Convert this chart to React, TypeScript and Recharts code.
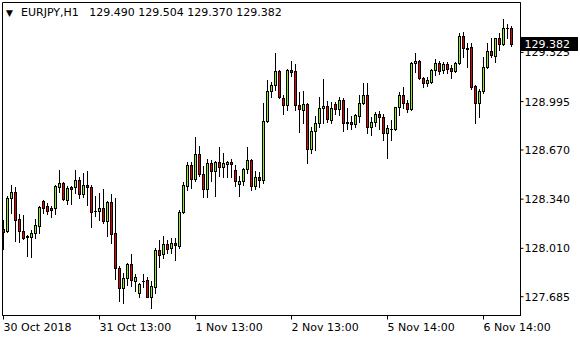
import { ComposedChart, Bar, XAxis, YAxis, ReferenceArea, ReferenceLine } from 'recharts';

// EURJPY H1
const opens = [
  128.141, 128.127, 128.348, 128.389, 128.208, 128.127, 128.094, 128.087, 128.114, 128.161,
  128.328, 128.295, 128.281, 128.281, 128.422, 128.449, 128.335, 128.422, 128.422, 128.469,
  128.375, 128.436, 128.422, 128.261, 128.261, 128.281, 128.194, 128.322, 128.114, 127.880,
  127.746, 127.813, 127.907, 127.793, 127.713, 127.793, 127.800, 127.686, 127.753, 128.001,
  127.974, 128.041, 128.014, 128.047, 128.027, 128.255, 128.429, 128.569, 128.476, 128.643,
  128.509, 128.409, 128.583, 128.529, 128.589, 128.556, 128.576, 128.589, 128.536, 128.442,
  128.462, 128.543, 128.603, 128.429, 128.489, 128.469, 128.864, 129.064, 129.104, 129.198,
  129.017, 128.971, 129.205, 129.198, 128.971, 128.937, 128.977, 128.676, 128.797, 128.850,
  128.950, 128.964, 128.870, 128.977, 128.944, 129.004, 128.857, 128.857, 128.843, 128.897,
  128.984, 129.037, 128.823, 128.857, 128.910, 128.890, 128.783, 128.810, 128.810, 128.957,
  129.037, 128.984, 128.944, 129.252, 129.265, 129.151, 129.118, 129.124, 129.205, 129.252,
  129.205, 129.245, 129.218, 129.198, 129.252, 129.432, 129.352, 129.358, 129.098, 128.984,
  129.064, 129.225, 129.332, 129.298, 129.425, 129.379, 129.492, 129.490,
];
const highs = [
  128.201, 128.362, 128.436, 128.422, 128.241, 128.234, 128.101, 128.134, 128.208, 128.295,
  128.335, 128.315, 128.295, 128.436, 128.536, 128.456, 128.429, 128.425, 128.536, 128.489,
  128.516, 128.529, 128.436, 128.362, 128.382, 128.409, 128.325, 128.375, 128.348, 127.893,
  127.847, 127.914, 127.974, 127.840, 127.780, 127.840, 127.820, 127.793, 128.014, 128.067,
  128.094, 128.067, 128.080, 128.080, 128.268, 128.456, 128.589, 128.589, 128.756, 128.696,
  128.563, 128.609, 128.603, 128.596, 128.690, 128.650, 128.596, 128.609, 128.569, 128.496,
  128.549, 128.690, 128.609, 128.529, 128.522, 128.984, 129.138, 129.124, 129.318, 129.205,
  129.037, 129.211, 129.265, 129.245, 129.057, 129.064, 128.984, 128.823, 128.897, 129.024,
  129.145, 128.997, 128.990, 128.990, 129.024, 129.017, 128.950, 128.897, 128.910, 129.037,
  129.118, 129.118, 128.890, 128.924, 128.930, 128.910, 128.837, 128.870, 128.957, 129.057,
  129.091, 129.004, 129.258, 129.318, 129.272, 129.158, 129.158, 129.211, 129.278, 129.265,
  129.258, 129.258, 129.238, 129.258, 129.452, 129.459, 129.385, 129.385, 129.105, 129.078,
  129.292, 129.385, 129.419, 129.425, 129.452, 129.546, 129.519, 129.504,
];
const lows = [
  128.007, 128.121, 128.248, 128.060, 128.054, 128.075, 127.960, 127.954, 128.080, 128.114,
  128.248, 128.241, 128.221, 128.241, 128.389, 128.335, 128.308, 128.308, 128.382, 128.348,
  128.355, 128.301, 128.154, 128.228, 128.201, 128.181, 128.094, 128.047, 127.807, 127.653,
  127.646, 127.766, 127.760, 127.726, 127.686, 127.753, 127.680, 127.606, 127.713, 127.887,
  127.947, 127.980, 127.980, 127.934, 128.014, 128.248, 128.402, 128.415, 128.462, 128.496,
  128.355, 128.355, 128.462, 128.362, 128.496, 128.489, 128.489, 128.489, 128.429, 128.362,
  128.436, 128.516, 128.402, 128.409, 128.422, 128.449, 128.857, 129.024, 129.071, 129.020,
  128.910, 128.937, 129.165, 128.937, 128.790, 128.850, 128.583, 128.649, 128.670, 128.823,
  128.850, 128.857, 128.850, 128.910, 128.904, 128.797, 128.810, 128.810, 128.823, 128.857,
  128.977, 128.783, 128.770, 128.830, 128.810, 128.736, 128.616, 128.736, 128.803, 128.904,
  128.950, 128.924, 128.940, 129.191, 129.145, 129.091, 129.098, 129.118, 129.171, 129.178,
  129.185, 129.185, 129.151, 129.191, 129.245, 129.292, 129.225, 129.078, 128.850, 128.890,
  129.051, 129.218, 129.292, 129.258, 129.338, 129.372, 129.419, 129.370,
];
const closes = [
  128.121, 128.348, 128.389, 128.201, 128.127, 128.080, 128.087, 128.114, 128.167, 128.288,
  128.281, 128.261, 128.268, 128.429, 128.449, 128.342, 128.415, 128.409, 128.469, 128.375,
  128.436, 128.422, 128.255, 128.258, 128.281, 128.194, 128.322, 128.107, 127.880, 127.746,
  127.813, 127.907, 127.800, 127.820, 127.773, 127.790, 127.686, 127.760, 128.001, 127.967,
  128.041, 128.007, 128.047, 128.034, 128.255, 128.436, 128.569, 128.476, 128.643, 128.509,
  128.409, 128.583, 128.529, 128.589, 128.556, 128.583, 128.589, 128.576, 128.462, 128.462,
  128.543, 128.603, 128.429, 128.489, 128.469, 128.864, 129.064, 129.104, 129.198, 129.024,
  128.971, 129.205, 129.191, 128.971, 128.944, 128.977, 128.676, 128.797, 128.850, 128.950,
  128.964, 128.877, 128.950, 128.944, 129.004, 128.850, 128.850, 128.843, 128.904, 128.984,
  129.037, 128.823, 128.857, 128.910, 128.890, 128.783, 128.817, 128.813, 128.957, 129.037,
  128.984, 128.944, 129.252, 129.265, 129.151, 129.118, 129.138, 129.205, 129.252, 129.198,
  129.245, 129.211, 129.198, 129.252, 129.432, 129.352, 129.348, 129.091, 128.984, 129.064,
  129.225, 129.332, 129.305, 129.425, 129.379, 129.492, 129.488, 129.382,
];

const symbol = 'EURJPY,H1';
const timeTicks = [0, 24, 48, 72, 96, 120];
const timeLabels = ['30 Oct 2018', '31 Oct 13:00', '1 Nov 13:00', '2 Nov 13:00', '5 Nov 14:00', '6 Nov 14:00'];
const priceTicks = [127.685, 128.01, 128.34, 128.67, 128.995, 129.325];
const lastPrice = 129.382;

const BULL = '#8af014';
const BEAR = '#e80000';
const FONT = '"DejaVu Sans", Verdana, sans-serif';
const X_DOMAIN = [-0.25, 129.25];
const Y_DOMAIN = [127.559, 129.66];

const data = opens.map((o, i) => ({
  i,
  o,
  h: highs[i],
  l: lows[i],
  c: closes[i],
  range: [lows[i], highs[i]],
}));

function Candle(props: any) {
  const { x, y, width, height, payload } = props;
  if (x == null || y == null || !payload) return null;
  const { o, h, l, c } = payload;
  const top = Math.min(y, y + height);
  const span = Math.abs(height);
  const toY = (v: number) => top + (span * (h - v)) / (h - l || 1);
  const cx = Math.floor(x + width / 2) + 0.5;
  const hiY = Math.round(top);
  const loY = Math.round(top + span);
  const bTop = Math.round(toY(Math.max(o, c)));
  const bBot = Math.round(toY(Math.min(o, c)));
  const fill = c > o ? BULL : BEAR;
  return (
    <g>
      <line x1={cx} x2={cx} y1={hiY} y2={loY + 1} stroke="#000" strokeWidth={1} />
      {bBot - bTop < 1 ? (
        <line x1={cx - 1.5} x2={cx + 1.5} y1={bTop + 0.5} y2={bTop + 0.5} stroke="#000" strokeWidth={1} />
      ) : (
        <rect x={cx - 1} y={bTop + 0.5} width={2} height={bBot - bTop} fill={fill} stroke="#000" strokeWidth={1} />
      )}
    </g>
  );
}

const TimeTick = ({ x, y, payload }: any) => {
  const idx = timeTicks.indexOf(payload.value);
  return (
    <text x={x} y={y} dy={9} fontSize={11} fontFamily={FONT} fill="#000" textAnchor="start">
      {timeLabels[idx]}
    </text>
  );
};

const PriceTick = ({ x, y, payload }: any) => (
  <text x={x} y={y} dy={4} fontSize={11} fontFamily={FONT} fill="#000" textAnchor="start">
    {Number(payload.value).toFixed(3)}
  </text>
);

const PriceTag = ({ viewBox }: any) => {
  if (!viewBox) return null;
  const left = viewBox.x + viewBox.width;
  const cy = viewBox.y;
  return (
    <g>
      <rect x={left + 0.5} y={Math.round(cy) - 7} width={57} height={14} fill="#000" />
      <text x={left + 4} y={cy} dy={4} fontSize={11} fontFamily={FONT} fill="#fff" textAnchor="start">
        {lastPrice.toFixed(3)}
      </text>
    </g>
  );
};

export default function App() {
  return (
    <div style={{ position: 'fixed', left: 0, top: 0, width: 580, height: 340, background: '#fff' }}>
      <ComposedChart
        width={580}
        height={340}
        data={data}
        margin={{ top: 2.5, right: 0, bottom: 0, left: 2.5 }}
      >
        <ReferenceArea
          x1={X_DOMAIN[0]}
          x2={X_DOMAIN[1]}
          y1={Y_DOMAIN[0]}
          y2={Y_DOMAIN[1]}
          fill="none"
          stroke="#000"
          strokeWidth={1}
          ifOverflow="visible"
        />
        <XAxis
          dataKey="i"
          type="number"
          domain={X_DOMAIN}
          ticks={timeTicks}
          interval={0}
          height={24.5}
          stroke="#000"
          tickSize={4}
          tickMargin={2}
          tick={<TimeTick />}
        />
        <YAxis
          orientation="right"
          type="number"
          domain={Y_DOMAIN}
          allowDataOverflow
          ticks={priceTicks}
          interval={0}
          width={59.5}
          stroke="#000"
          tickSize={3}
          tickMargin={1}
          tick={<PriceTick />}
        />
        <Bar dataKey="range" barSize={3} shape={<Candle />} isAnimationActive={false} />
        <ReferenceLine y={lastPrice} stroke="none" ifOverflow="visible" label={<PriceTag />} />
      </ComposedChart>
      <div
        style={{
          position: 'absolute',
          left: 6,
          top: 6,
          fontFamily: FONT,
          fontSize: 11,
          lineHeight: '13px',
          color: '#000',
          whiteSpace: 'pre',
        }}
      >
        <span style={{ fontSize: 9, display: 'inline-block', width: 15 }}>▼</span>
        {symbol + '   129.490 129.504 129.370 129.382'}
      </div>
    </div>
  );
}
